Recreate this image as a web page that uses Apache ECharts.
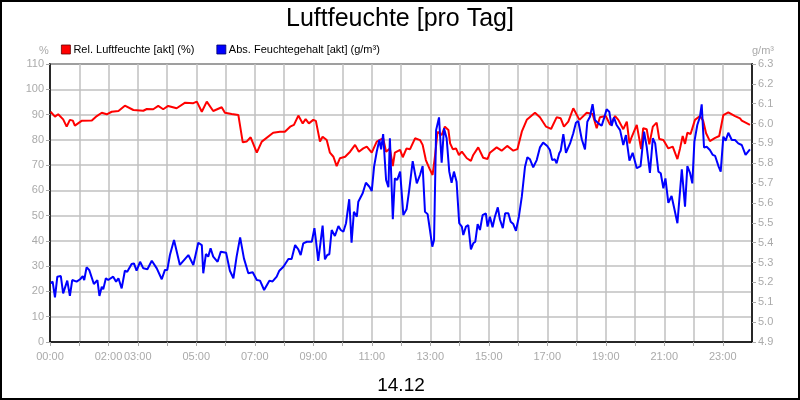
<!DOCTYPE html>
<html>
<head>
<meta charset="utf-8">
<script src="https://cdn.jsdelivr.net/npm/echarts@6/dist/echarts.min.js"></script>
<style>
  html, body { margin: 0; padding: 0; background: #fff; }
  #chart { width: 800px; height: 400px; }
</style>
</head>
<body>
<div id="chart"></div>
<script>
// Luftfeuchte [pro Tag] - 14.12

// x-Achse: Stunden, nur ausgewählte Beschriftungen
const hourLabels = ['00:00', '', '02:00', '03:00', '', '05:00', '', '07:00', '', '09:00', '', '11:00', '',
  '13:00', '', '15:00', '', '17:00', '', '19:00', '', '21:00', '', '23:00', '']

// Rel. Luftfeuchte (%) - Zeit in Stunden
const relTime = [0.02, 0.17, 0.28, 0.45, 0.57, 0.68, 0.78, 0.85, 1.08, 1.43, 1.60, 1.77, 1.94, 2.11, 2.34, 2.56,
  2.85, 3.19, 3.31, 3.53, 3.70, 3.87, 4.04, 4.33, 4.62, 4.90, 5.02, 5.19, 5.36, 5.58, 5.87, 5.98, 6.21, 6.44,
  6.59, 6.72, 6.86, 7.07, 7.24, 7.63, 7.86, 8.03, 8.21, 8.34, 8.49, 8.64, 8.74, 8.85, 9.00, 9.09, 9.23, 9.32,
  9.46, 9.57, 9.69, 9.80, 9.91, 10.09, 10.26, 10.43, 10.56, 10.71, 10.83, 11.00, 11.17, 11.31, 11.39, 11.49,
  11.62, 11.72, 11.79, 11.97, 12.06, 12.19, 12.31, 12.48, 12.65, 12.74, 12.85, 12.97, 13.08, 13.16, 13.25,
  13.39, 13.50, 13.62, 13.68, 13.77, 13.88, 13.98, 14.08, 14.25, 14.39, 14.47, 14.64, 14.81, 14.96, 15.04,
  15.27, 15.44, 15.63, 15.84, 15.98, 16.13, 16.30, 16.58, 16.75, 16.96, 17.13, 17.32, 17.46, 17.57, 17.72,
  17.89, 18.10, 18.35, 18.55, 18.69, 18.80, 19.00, 19.15, 19.32, 19.43, 19.60, 19.72, 19.81, 19.89, 20.06,
  20.21, 20.28, 20.40, 20.49, 20.61, 20.74, 20.83, 20.97, 21.14, 21.29, 21.45, 21.54, 21.63, 21.71, 21.79,
  21.90, 22.05, 22.22, 22.33, 22.43, 22.56, 22.74, 22.88, 23.02, 23.19, 23.42, 23.59, 23.65, 23.93]
const relHum = [91.1, 89.2, 90.1, 88.1, 85.2, 87.9, 87.6, 85.6, 87.5, 87.6, 89.4, 90.7, 90.1, 91.1, 91.4, 93.5,
  91.8, 91.5, 92.2, 92.1, 93.4, 92.1, 93.4, 92.5, 94.7, 94.5, 95.1, 91.1, 95.1, 91.4, 92.9, 90.7, 90.2, 89.8,
  79.0, 79.3, 81.0, 74.9, 79.3, 82.8, 83.2, 83.2, 85.2, 85.9, 89.6, 86.5, 88.2, 86.5, 87.9, 87.5, 79.3, 81.2,
  79.9, 74.9, 73.3, 69.6, 72.7, 73.3, 75.3, 78.0, 75.3, 76.6, 77.3, 74.9, 79.3, 80.2, 80.6, 75.3,
  76.6, 69.6, 74.9, 76.0, 73.1, 76.6, 76.3, 80.6, 79.9, 78.0, 72.0, 68.7, 66.1, 73.3, 83.2,
  81.9, 85.2, 83.9, 78.6, 76.3, 76.6, 74.0, 75.3, 72.7, 71.7, 74.0, 77.0, 72.9, 72.4, 74.9,
  77.0, 75.7, 77.6, 75.7, 76.3, 83.2, 87.9, 90.7, 88.9, 85.2, 84.3, 88.9, 88.5, 85.2, 87.2,
  92.5, 87.9, 90.7, 90.2, 84.6, 88.9, 89.4, 85.9, 89.4, 87.9, 84.2, 87.2, 78.6, 81.2, 85.9,
  76.3, 84.6, 84.2, 78.2, 85.2, 86.8, 80.3, 79.9, 76.6, 77.3, 72.4, 76.6, 81.5, 78.4, 82.8,
  82.3, 87.9, 89.4, 87.6, 82.6, 79.5, 80.8, 81.5, 89.8, 90.9, 89.4, 88.5, 87.6, 85.9]

// Abs. Feuchtegehalt (g/m³)
const absTime = [0.02, 0.09, 0.17, 0.25, 0.37, 0.45, 0.59, 0.68, 0.76, 0.91, 1.03, 1.12, 1.17, 1.25, 1.34, 1.50,
  1.62, 1.69, 1.77, 1.82, 1.91, 1.99, 2.16, 2.26, 2.34, 2.45, 2.56, 2.64, 2.79, 2.87, 2.96, 3.08, 3.19, 3.33,
  3.48, 3.65, 3.82, 3.93, 4.01, 4.10, 4.24, 4.44, 4.73, 4.90, 5.07, 5.19, 5.24, 5.33, 5.41, 5.49, 5.58, 5.73,
  5.84, 6.02, 6.15, 6.27, 6.38, 6.50, 6.63, 6.78, 6.93, 7.07, 7.18, 7.32, 7.50, 7.61, 7.75, 7.84, 7.98, 8.15,
  8.26, 8.38, 8.49, 8.57, 8.66, 8.78, 8.95, 9.04, 9.09, 9.17, 9.23, 9.32, 9.40, 9.48, 9.55, 9.63, 9.74, 9.86,
  9.94, 10.03, 10.12, 10.23, 10.31, 10.39, 10.49, 10.54, 10.69, 10.80, 10.92, 11.00, 11.08, 11.17, 11.26,
  11.32, 11.39, 11.49, 11.57, 11.62, 11.72, 11.79, 11.87, 11.97, 12.08, 12.19, 12.28, 12.40, 12.54, 12.65,
  12.74, 12.82, 12.91, 12.99, 13.07, 13.13, 13.20, 13.30, 13.39, 13.47, 13.56, 13.65, 13.73, 13.81, 13.90,
  13.99, 14.08, 14.13, 14.22, 14.30, 14.39, 14.47, 14.54, 14.62, 14.70, 14.79, 14.90, 14.96, 15.04, 15.13,
  15.21, 15.31, 15.38, 15.48, 15.56, 15.67, 15.75, 15.84, 15.93, 16.03, 16.13, 16.24, 16.32, 16.41, 16.52,
  16.64, 16.75, 16.86, 17.00, 17.09, 17.17, 17.26, 17.32, 17.41, 17.46, 17.55, 17.64, 17.78, 17.89, 17.98,
  18.06, 18.18, 18.29, 18.37, 18.46, 18.55, 18.63, 18.75, 18.86, 18.94, 19.03, 19.12, 19.20, 19.28, 19.37,
  19.49, 19.60, 19.69, 19.81, 19.92, 20.06, 20.19, 20.31, 20.40, 20.51, 20.61, 20.69, 20.80, 20.88, 20.97,
  21.04, 21.14, 21.25, 21.33, 21.45, 21.60, 21.71, 21.79, 21.88, 21.96, 22.03, 22.13, 22.22, 22.28, 22.36,
  22.45, 22.56, 22.66, 22.74, 22.86, 22.93, 23.02, 23.10, 23.19, 23.31, 23.42, 23.53, 23.65, 23.78, 23.93]
const absHum = [5.196, 5.204, 5.125, 5.229, 5.232, 5.145, 5.209, 5.132, 5.212, 5.204, 5.216, 5.232, 5.212, 5.276,
  5.263, 5.192, 5.212, 5.132, 5.178, 5.165, 5.221, 5.212, 5.229, 5.204, 5.221, 5.170, 5.259, 5.254, 5.293, 5.296,
  5.259, 5.304, 5.271, 5.266, 5.309, 5.271, 5.216, 5.263, 5.263, 5.338, 5.414, 5.288, 5.338, 5.288, 5.400, 5.388,
  5.246, 5.343, 5.330, 5.372, 5.330, 5.304, 5.355, 5.350, 5.259, 5.221, 5.330, 5.427, 5.321, 5.246, 5.251, 5.212,
  5.209, 5.162, 5.209, 5.205, 5.229, 5.259, 5.279, 5.318, 5.318, 5.388, 5.367, 5.338, 5.397, 5.405, 5.405, 5.473,
  5.414, 5.309, 5.313, 5.486, 5.316, 5.338, 5.342, 5.464, 5.434, 5.484, 5.464, 5.455, 5.498, 5.619, 5.400, 5.556,
  5.531, 5.606, 5.649, 5.702, 5.682, 5.660, 5.783, 5.858, 5.917, 5.870, 5.947, 5.716, 5.679, 5.926, 5.518, 5.724,
  5.716, 5.758, 5.539, 5.568, 5.665, 5.811, 5.699, 5.741, 5.786, 5.556, 5.544, 5.464, 5.380, 5.414, 5.967, 6.031,
  5.803, 5.976, 5.926, 5.758, 5.702, 5.758, 5.707, 5.498, 5.481, 5.439, 5.481, 5.489, 5.367, 5.397, 5.405, 5.494,
  5.464, 5.539, 5.548, 5.481, 5.531, 5.478, 5.531, 5.578, 5.518, 5.473, 5.548, 5.548, 5.506, 5.494, 5.460, 5.531,
  5.632, 5.783, 5.830, 5.820, 5.780, 5.816, 5.880, 5.904, 5.887, 5.867, 5.816, 5.820, 5.800, 5.850, 5.863, 5.947,
  5.853, 5.900, 5.951, 6.004, 6.013, 5.921, 5.870, 6.009, 6.034, 6.098, 6.018, 6.001, 5.989, 6.026, 6.072, 6.060,
  5.988, 6.031, 5.993, 5.967, 5.892, 5.942, 5.813, 5.853, 5.775, 5.786, 5.959, 5.883, 5.752, 5.926, 5.900, 5.758,
  5.750, 5.674, 5.724, 5.601, 5.635, 5.581, 5.498, 5.770, 5.581, 5.786, 5.752, 5.699, 5.909, 5.993, 6.034, 6.097,
  5.880, 5.883, 5.867, 5.842, 5.837, 5.783, 5.758, 5.934, 5.914, 5.954, 5.917, 5.917, 5.900, 5.892, 5.842, 5.870]

const FONT = 'Liberation Sans, Arial, sans-serif'
const GREY = '#aaaaaa'
const GRID = '#c0c0c0'

let myChart = echarts.init(document.getElementById('chart'), null, { renderer: 'canvas' })

let axisCommon = {
  axisLine: { show: true, lineStyle: { color: '#000', width: 1.5 } },
  axisTick: { show: true, length: 4, lineStyle: { color: GREY } },
  axisLabel: { color: GREY, fontFamily: FONT, fontSize: 11, margin: 6 },
  nameTextStyle: { color: GREY, fontFamily: FONT, fontSize: 11 }
}

let option = {
  animation: false,
  backgroundColor: '#fff',
  textStyle: { fontFamily: FONT },
  title: {
    text: 'Luftfeuchte [pro Tag]',
    left: 'center',
    top: 2,
    textStyle: { fontFamily: FONT, fontSize: 25, fontWeight: 'normal', color: '#000' }
  },
  legend: {
    left: 56,
    top: 39,
    itemWidth: 9,
    itemHeight: 9,
    itemGap: 22,
    icon: 'rect',
    textStyle: { fontFamily: FONT, fontSize: 11, color: '#000', padding: [0, 0, 0, -2] },
    data: [
      { name: 'Rel. Luftfeuchte [akt] (%)', itemStyle: { borderColor: '#600', borderWidth: 0.8 } },
      { name: 'Abs. Feuchtegehalt [akt] (g/m³)', itemStyle: { borderColor: '#006', borderWidth: 0.8 } }
    ]
  },
  grid: {
    left: 50, right: 48, top: 64, bottom: 58,
    show: true, borderColor: '#000', borderWidth: 1.5
  },
  xAxis: Object.assign({}, axisCommon, {
    type: 'value',
    min: 0, max: 24, interval: 1,
    name: '14.12',
    nameLocation: 'middle',
    nameGap: 34,
    nameTextStyle: { color: '#000', fontFamily: FONT, fontSize: 19 },
    axisLabel: {
      color: GREY, fontFamily: FONT, fontSize: 11, margin: 9, showMaxLabel: false,
      formatter: v => hourLabels[Math.round(v)] || ''
    },
    splitLine: { show: true, lineStyle: { color: GRID, width: 1.5 } }
  }),
  yAxis: [
    Object.assign({}, axisCommon, {
      type: 'value',
      min: 0, max: 110, interval: 10,
      name: '%',
      nameGap: 8,
      nameTextStyle: { color: GREY, fontFamily: FONT, fontSize: 11, padding: [0, 12, 0, 0] },
      splitLine: { show: true, lineStyle: { color: GRID, width: 1.5 } }
    }),
    Object.assign({}, axisCommon, {
      type: 'value',
      position: 'right',
      min: 4.9, max: 6.3, interval: 0.1,
      name: 'g/m³',
      nameGap: 8,
      nameTextStyle: { color: GREY, fontFamily: FONT, fontSize: 11, padding: [0, 0, 0, 22] },
      axisLabel: { color: GREY, fontFamily: FONT, fontSize: 11, margin: 6, formatter: v => v.toFixed(1) },
      splitLine: { show: false }
    })
  ],
  series: [
    {
      name: 'Rel. Luftfeuchte [akt] (%)',
      type: 'line',
      yAxisIndex: 0,
      showSymbol: false,
      color: '#ff0000',
      lineStyle: { color: '#ff0000', width: 2 },
      data: relTime.map((t, i) => [t, relHum[i]])
    },
    {
      name: 'Abs. Feuchtegehalt [akt] (g/m³)',
      type: 'line',
      yAxisIndex: 1,
      showSymbol: false,
      color: '#0000ff',
      lineStyle: { color: '#0000ff', width: 2 },
      data: absTime.map((t, i) => [t, absHum[i]])
    }
  ],
  graphic: [
    {
      type: 'rect',
      shape: { x: 1, y: 1, width: 798, height: 398 },
      style: { fill: 'none', stroke: '#000', lineWidth: 2 },
      silent: true
    }
  ]
}

myChart.setOption(option)
</script>
</body>
</html>
